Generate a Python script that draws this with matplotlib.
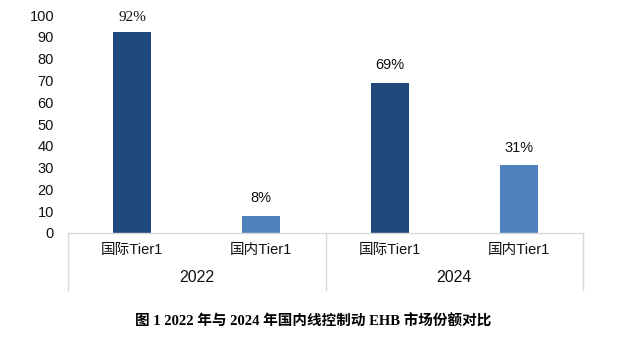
import matplotlib
matplotlib.use("Agg")
import matplotlib.pyplot as plt
import matplotlib.transforms as mtransforms

plt.rcParams['font.family'] = ['Liberation Sans', 'Noto Sans CJK SC', 'DejaVu Sans']

categories = ['国际Tier1', '国内Tier1', '国际Tier1', '国内Tier1']
years = ['2022', '2024']
shares = [92, 8, 69, 31]
value_labels = ['92%', '8%', '69%', '31%']
yticks = [0, 10, 20, 30, 40, 50, 60, 70, 80, 90, 100]
title = '图 1 2022 年与 2024 年国内线控制动 EHB 市场份额对比'

dark_blue = '#1F497D'
light_blue = '#4F81BD'
colors = [dark_blue, light_blue, dark_blue, light_blue]
grid_gray = '#D9D9D9'

W, H = 627, 338
fig = plt.figure(figsize=(W / 100, H / 100), dpi=100)
ax = fig.add_axes([68 / W, (H - 233) / H, (583 - 68) / W, 218 / H])

x = list(range(len(categories)))
ax.bar(x, shares, width=0.295, color=colors, zorder=2)

ax.set_xlim(-0.5, len(categories) - 0.5)
ax.set_ylim(0, 100)
ax.set_yticks(yticks)
ax.set_xticks([])
ax.tick_params(axis='y', length=0, pad=10, labelsize=10.5, colors='#111111')

for side in ['left', 'right', 'top']:
    ax.spines[side].set_visible(False)
ax.spines['bottom'].set_color(grid_gray)
ax.spines['bottom'].set_linewidth(1.0)

# value labels above the bars (the first one is set in a serif face)
for i, (v, lab) in enumerate(zip(shares, value_labels)):
    fam = ['Liberation Serif'] if i == 0 else ['Liberation Sans']
    ax.annotate(lab, (i, v), xytext=(0, 11 if i == 0 else 12.5),
                textcoords='offset points', ha='center', va='center',
                fontsize=10.5 if i else 11, family=fam, color='#111111')

# two-level category axis
trans = mtransforms.blended_transform_factory(ax.transData, ax.transAxes)
for xs in [-0.5, 1.5, 3.5]:
    ax.plot([xs, xs], [0, -57 / 218], transform=trans, color=grid_gray,
            lw=1.0, clip_on=False)
for i, c in enumerate(categories):
    ax.text(i, -17 / 218, c, transform=trans, ha='center', va='center',
            fontsize=10.5, color='#111111')
for j, yr in enumerate(years):
    ax.text(2 * j + 0.5, -44 / 218, yr, transform=trans, ha='center',
            va='center', fontsize=11.5, color='#111111')

fig.text(313 / W, 1 - 322 / H, title, ha='center', va='center',
         fontsize=10.5, fontweight='bold',
         family=['Liberation Serif', 'Noto Sans CJK SC'])

fig.savefig('out.png', dpi=100)
